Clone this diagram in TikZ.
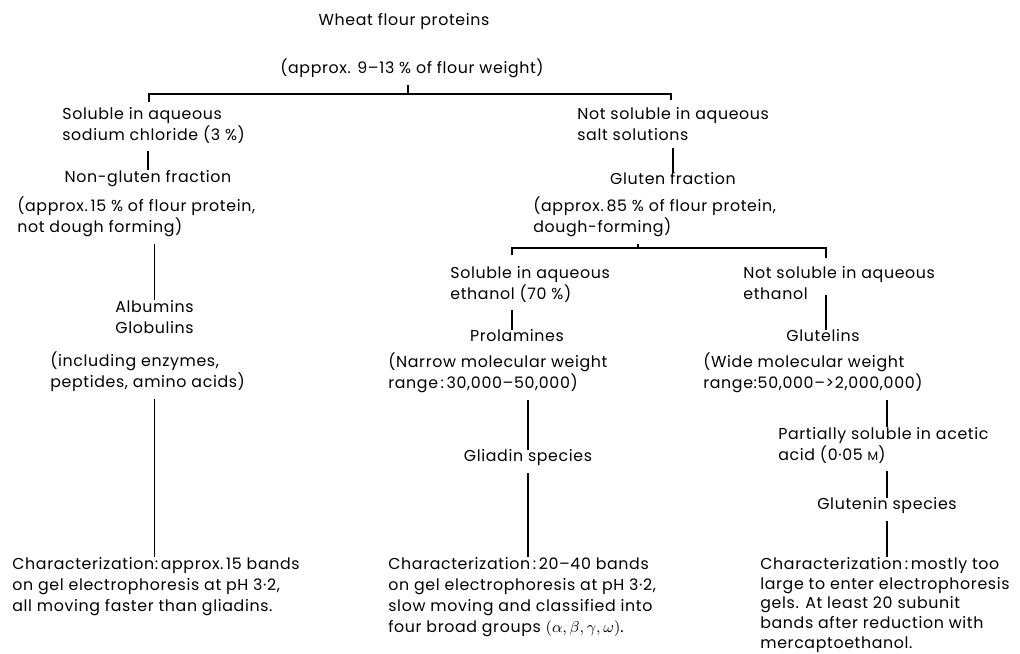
\documentclass[tikz,border=0pt]{standalone}
\usepackage{fontspec}
\setmainfont{Poppins}[LetterSpace=4]
\usetikzlibrary{positioning}

\begin{document}
\begin{tikzpicture}[
    x=0.02cm, y=-0.02cm,
    entry/.style={inner sep=0pt, font=\fontsize{9}{12}\selectfont},
    block/.style={entry, align=left, anchor=north west},
    link/.style={line width=0.8pt},
    drop/.style={link, shorten <=4pt},
]
\useasboundingbox (0,0) rectangle (1020,653);
\node[entry] (title) at (404,22) {Wheat flour proteins};
\node[entry] (wt) at (412,68) {(approx. 9\textendash13 \% of flour weight)};
\node[block] (sol) at (62,107) {Soluble in aqueous\\sodium chloride (3 \%)};
\node[entry] (ngf) at (148,179) {Non-gluten fraction};
\node[block] (ngfnote) at (17,196) {(approx.\,15 \% of flour protein,\\not dough forming)};
\node[block] (alb) at (115,300) {Albumins\\Globulins};
\node[block] (albnote) at (50,351) {(including enzymes,\\peptides, amino acids)};
\node[block] (charA) at (12,557) {Characterization:\,approx.\,15 bands\\on gel electrophoresis at pH 3·2,\\all moving faster than gliadins.};
\node[block] (notsol) at (577,107) {Not soluble in aqueous\\salt solutions};
\node[entry] (glf) at (673,179) {Gluten fraction};
\node[block] (glfnote) at (533,196) {(approx.\,85 \% of flour protein,\\dough-forming)};
\node[block] (ethsol) at (450,266) {Soluble in aqueous\\ethanol (70 \%)};
\node[entry] (prol) at (517,336) {Prolamines};
\node[block] (prolnote) at (388,352) {(Narrow molecular weight\\range\,:\,30,000\textendash50,000)};
\node[entry] (gliadin) at (528,458) {Gliadin species};
\node[block] (charB) at (388,557) {Characterization\,:\,20\textendash40 bands\\on gel electrophoresis at pH 3·2,\\slow moving and classified into\\four broad groups $(\alpha,\beta,\gamma,\omega)$.};
\node[block] (ethnot) at (743,266) {Not soluble in aqueous\\ethanol};
\node[entry] (glut) at (823,336) {Glutelins};
\node[block] (glutnote) at (703,352) {(Wide molecular weight\\range:50,000\textendash{>}2,000,000)};
\node[block] (acetic) at (778,427) {Partially soluble in acetic\\acid (0·05 {\scriptsize M})};
\node[entry] (glutenin) at (887,506) {Glutenin species};
\node[block, font=\fontsize{9}{11.2}\selectfont] (charC) at (760,557) {Characterization\,:\,mostly too\\large to enter electrophoresis\\gels. At least 20 subunit\\bands after reduction with\\mercaptoethanol.};
\coordinate (t0) at (408,94);
\coordinate (tl) at (149,102);
\coordinate (tr) at (671,100);
\coordinate (g0) at (638,248);
\coordinate (gl) at (512,255);
\coordinate (gr) at (826,258);
\coordinate (gm) at (826,295);
\draw[drop] (wt.south -| t0) -- (t0);
\draw[link] (tl) |- (t0) -| (tr);
\draw[drop] (sol.south -| ngf.north) -- (ngf.north);
\draw[drop] (ngfnote.south -| alb.north) -- (alb.north);
\draw[drop] (albnote.south -| alb.north) -- (charA.north -| alb.north);
\draw[drop] (notsol.south -| glf.north) -- (glf.north);
\draw[drop] (glfnote.south -| g0) -- (g0);
\draw[link] (gl) |- (g0) -| (gr);
\draw[drop] (ethsol.south -| gl) -- (prol.north -| gl);
\draw[link] (gm) -- (glut.north -| gm);
\draw[drop] (prolnote.south -| gliadin.north) -- (gliadin.north);
\draw[drop] (gliadin.south) -- (charB.north -| gliadin.south);
\draw[drop] (glutnote.south -| glutenin.north) -- (acetic.north -| glutenin.north);
\draw[drop] (acetic.south -| glutenin.north) -- (glutenin.north);
\draw[drop] (glutenin.south) -- (charC.north -| glutenin.south);
\end{tikzpicture}
\end{document}
